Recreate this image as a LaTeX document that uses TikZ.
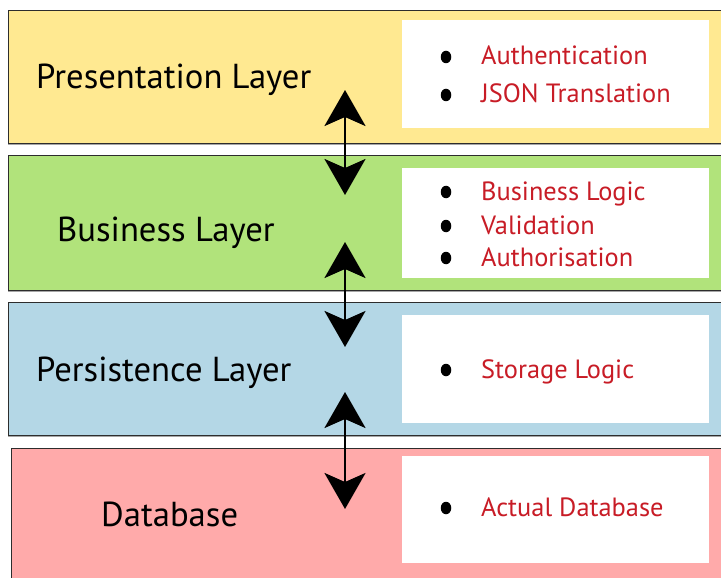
\documentclass[tikz,border=0pt]{standalone}
\usepackage{fontspec}
\setmainfont{PT Sans}
\usetikzlibrary{arrows.meta,shapes.geometric}
\definecolor{cyellow}{RGB}{255,233,145}
\definecolor{cgreen}{RGB}{177,227,123}
\definecolor{cblue}{RGB}{180,215,230}
\definecolor{cpink}{RGB}{255,170,170}
\definecolor{cred}{RGB}{200,28,38}
\definecolor{cborder}{RGB}{45,45,45}
\begin{document}
\begin{tikzpicture}[x=1bp,y=-1bp,
  band/.style={draw=cborder,line width=1.3bp,rectangle,inner sep=0pt,anchor=north west,minimum width=740bp},
  wbox/.style={fill=white,rectangle,inner sep=0pt,anchor=north west,minimum width=307bp},
  lbl/.style={anchor=base west,inner sep=0pt,font=\fontsize{34.8}{38}\selectfont,text=black},
  item/.style={anchor=base west,inner sep=0pt,font=\fontsize{26.5}{30}\selectfont,text=cred},
  dot/.style={fill=black,ellipse,inner sep=0pt,minimum width=10.5bp,minimum height=12.5bp},
  arr/.style={line width=2.6bp,{Stealth[length=36bp,width=41bp,inset=9bp]}-{Stealth[length=36bp,width=41bp,inset=9bp]}}
]
\useasboundingbox[fill=white] (0,0) rectangle (721,578);
% shadows
\draw[gray!70,line width=1.5bp] (8,144.5) -- (730,144.5);
\draw[gray!70,line width=1.5bp] (8,291.5) -- (730,291.5);
\draw[gray!70,line width=1.5bp] (8,436.5) -- (730,436.5);
% bands
\node[band,fill=cyellow,minimum height=133bp] (pband) at (8,10) {};
\node[band,fill=cgreen,minimum height=135bp] (bband) at (8,155) {};
\node[band,fill=cblue,minimum height=133bp] (sband) at (8,302) {};
\node[band,fill=cpink,minimum height=140bp] (dband) at (11,448) {};
% white boxes
\node[wbox,minimum height=108bp] (pbox) at (402,20) {};
\node[wbox,minimum height=110bp] (bbox) at (402,168) {};
\node[wbox,minimum height=108bp] (sbox) at (402,315) {};
\node[wbox,minimum height=107bp] (dbox) at (402,456) {};
% labels
\node[lbl] (ptxt) at (36,89) {Presentation Layer};
\node[lbl] (btxt) at (57,241) {Business Layer};
\node[lbl] (stxt) at (36,381) {Persistence Layer};
\node[lbl] (dtxt) at (101,526) {Database};
% items
\node[dot] (d1) at (446,57) {};
\node[item] (i1) at (481,65) {Authentication};
\node[dot] (d2) at (446,95) {};
\node[item] (i2) at (481,103) {JSON Translation};
\node[dot] (d3) at (446,192) {};
\node[item] (i3) at (481,201) {Business Logic};
\node[dot] (d4) at (446,226) {};
\node[item] (i4) at (481,234) {Validation};
\node[dot] (d5) at (446,258) {};
\node[item] (i5) at (481,266) {Authorisation};
\node[dot] (d6) at (446,370) {};
\node[item] (i6) at (481,378) {Storage Logic};
\node[dot] (d7) at (446,508) {};
\node[item] (i7) at (481,516) {Actual Database};
% arrows
\coordinate (a1t) at (345,90);
\coordinate (a1b) at (345,195);
\coordinate (a2t) at (345,242);
\coordinate (a2b) at (345,347);
\coordinate (a3t) at (345,392);
\coordinate (a3b) at (345,509);
\draw[arr] (a1t) -- (a1b);
\draw[arr] (a2t) -- (a2b);
\draw[arr] (a3t) -- (a3b);
\end{tikzpicture}
\end{document}
